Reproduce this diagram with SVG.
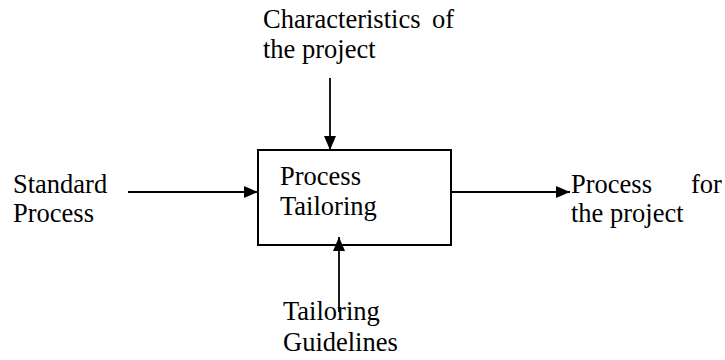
<svg xmlns="http://www.w3.org/2000/svg" width="725" height="360" viewBox="0 0 725 360">
<defs>
<style>
text{font-family:"Liberation Serif","Times New Roman",serif;font-size:26.5px;fill:#000}
.ln{stroke:#000;stroke-width:1.8;fill:none}
</style>
<marker id="ah" viewBox="0 0 14 12" refX="14" refY="6" markerWidth="14" markerHeight="12" markerUnits="userSpaceOnUse" orient="auto">
<path d="M0,0 L14,6 L0,12 Z" fill="#000"/>
</marker>
</defs>
<rect width="725" height="360" fill="#fff"/>
<g id="process-tailoring">
<rect x="258" y="150" width="193" height="95" fill="none" stroke="#000" stroke-width="2"/>
<text x="280" y="185">Process</text>
<text x="280" y="215">Tailoring</text>
</g>
<g id="characteristics">
<text x="263" y="28">Characteristics<tspan x="432">of</tspan></text>
<text x="263" y="58">the project</text>
</g>
<g id="standard-process">
<text x="13" y="193">Standard</text>
<text x="13" y="222">Process</text>
</g>
<g id="process-for-project">
<text x="571" y="193">Process<tspan x="691">for</tspan></text>
<text x="571" y="222">the project</text>
</g>
<g id="tailoring-guidelines">
<text x="283" y="320">Tailoring</text>
<text x="283" y="351">Guidelines</text>
</g>
<g id="connectors">
<line class="ln" x1="330" y1="78" x2="330" y2="150" marker-end="url(#ah)"/>
<line class="ln" x1="128" y1="192" x2="258" y2="192" marker-end="url(#ah)"/>
<line class="ln" x1="451" y1="192" x2="570" y2="192" marker-end="url(#ah)"/>
<line class="ln" x1="339" y1="312" x2="339" y2="237" marker-end="url(#ah)"/>
</g>
</svg>
